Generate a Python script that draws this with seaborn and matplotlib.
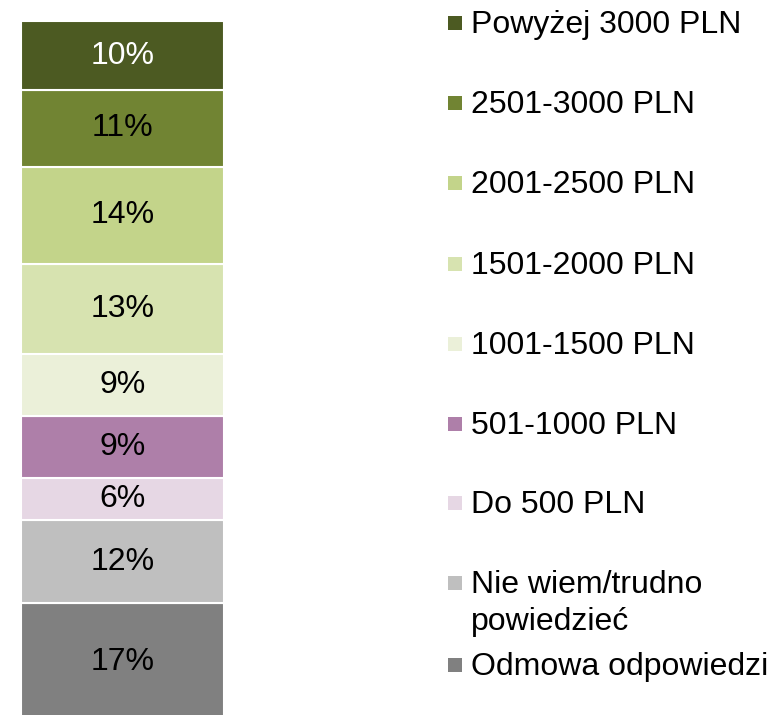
import matplotlib
matplotlib.use("Agg")
import matplotlib.pyplot as plt
import pandas as pd
import seaborn as sns
from matplotlib.patches import Rectangle

# segments from the bottom of the bar to the top
categories = [
    "Odmowa odpowiedzi",
    "Nie wiem/trudno\npowiedzieć",
    "Do 500 PLN",
    "501-1000 PLN",
    "1001-1500 PLN",
    "1501-2000 PLN",
    "2001-2500 PLN",
    "2501-3000 PLN",
    "Powyżej 3000 PLN",
]
shares = [17, 12, 6, 9, 9, 13, 14, 11, 10]
colors = [
    "#808080", "#bfbfbf", "#e6d7e4", "#ae7fa9", "#ebf0d9",
    "#d7e3b0", "#c3d48a", "#718433", "#4c5a22",
]
label_colors = ["black"] * 8 + ["white"]

W, H = 771, 715
FONT = 23

sns.set_theme(style="white")
plt.rcParams["font.family"] = ["Liberation Sans", "DejaVu Sans"]

fig = plt.figure(figsize=(W / 100, H / 100), dpi=100, facecolor="white")
ax = fig.add_axes([21 / W, -6 / H, 203 / W, 700 / H])

bottom = 0
for cat, val, col, lc in zip(categories, shares, colors, label_colors):
    df = pd.DataFrame({"group": ["all"], "share": [val]})
    sns.barplot(data=df, x="group", y="share", color=col, bottom=bottom,
                width=0.8, edgecolor="white", linewidth=1.5,
                saturation=1, ax=ax)
    ax.bar_label(ax.containers[-1], labels=[f"{val}%"], label_type="center",
                 fontsize=FONT, color=lc)
    bottom += val

ax.set_xlim(-0.4, 0.4)
ax.set_ylim(0, sum(shares))
ax.set_axis_off()

# legend drawn by hand, top entry first (Excel spacing is not uniform)
baselines = [33, 113, 193, 274, 354, 434, 513, 593, 675]
for cat, col, base in zip(categories[::-1], colors[::-1], baselines):
    fig.add_artist(Rectangle((448 / W, 1 - (base - 3) / H), 14 / W, 14 / H,
                             transform=fig.transFigure, facecolor=col,
                             edgecolor="none"))
    lines = cat.split("\n")
    for k, line in enumerate(lines):
        fig.text(471 / W, 1 - (base + 37 * k) / H, line, fontsize=FONT,
                 va="baseline", ha="left", color="black")

fig.savefig("out.png", dpi=100, facecolor="white")
